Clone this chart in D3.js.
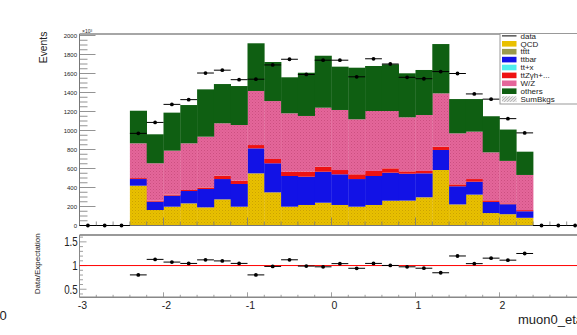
<!DOCTYPE html>
<html><head><meta charset="utf-8">
<script src="https://cdn.jsdelivr.net/npm/d3@7/dist/d3.min.js"></script>
<style>
body{margin:0;background:#fff}
svg{display:block}
text{font-family:"Liberation Sans",Arial,Helvetica,sans-serif;fill:#222}
</style>
</head><body>
<svg id="c" width="577" height="335"></svg>
<script>
// ---------------- data ----------------
const binCenters = [-2.9,-2.7,-2.5,-2.3,-2.1,-1.9,-1.7,-1.5,-1.3,-1.1,-0.9,-0.7,-0.5,-0.3,-0.1,0.1,0.3,0.5,0.7,0.9,1.1,1.3,1.5,1.7,1.9,2.1,2.3,2.5,2.7,2.9];
const binWidth = 0.2;
const qcd    = [0,0,0,419,163,198,233,191,275,198,549,349,198,216,240,216,198,216,261,262,297,584,222,325,131,119,81,0,0,0];
const tttt   = [0,0,0,0,0,0,0,0,0,0,0,0,0,0,0,0,0,0,0,0,0,0,0,0,0,0,0,0,0,0];
const ttbar  = [0,0,0,70,88,116,130,193,214,239,263,306,323,298,326,323,291,305,295,283,252,211,191,136,117,105,69,0,0,0];
const ttx    = [0,0,0,0,0,0,0,0,0,0,0,0,0,0,0,0,0,0,0,0,0,0,0,0,0,0,0,0,0,0];
const ttzgh  = [0,0,0,10,10,11,11,16,35,35,35,45,45,52,53,45,50,53,46,25,25,35,20,28,17,9,12,0,0,0];
const wz     = [0,0,0,366,394,463,491,535,552,586,569,610,615,587,621,632,579,631,603,569,589,561,537,499,505,447,370,0,0,0];
const others = [0,0,0,343,305,400,403,498,413,410,502,411,379,455,547,456,543,474,492,463,474,519,361,343,380,330,245,0,0,0];
const dataVals = [0,0,0,970,1085,1275,1325,1605,1635,1535,1540,1690,1750,1590,1740,1740,1565,1755,1700,1560,1545,1620,1600,1385,1330,1125,975,0,0,0];
const xTicks = [-3,-2,-1,0,1,2];
const yTicks = [0,200,400,600,800,1000,1200,1400,1600,1800,2000];
const rTicks = [0.5,1,1.5];
const legendLabels = ["data","QCD","tttt","ttbar","tt+x","ttZγh+...","W/Z","others","SumBkgs"];

// ---------------- layout ----------------
const svg = d3.select("#c");
const L = 79.5, R = 583.5;
const x = d3.scaleLinear().domain([-3,3]).range([L,R]);
const y = d3.scaleLinear().domain([0,2000]).range([225.5,35.5]);
const yr = d3.scaleLinear().domain([0.33,1.645]).range([297.3,235]);
const mainTop = 34, mainBot = y(0);
const rTop = 235, rBot = 297.3;

const defs = svg.append("defs");
function dotPattern(id, base, dot){
  const p = defs.append("pattern").attr("id",id).attr("width",3).attr("height",3).attr("patternUnits","userSpaceOnUse");
  p.append("rect").attr("width",3).attr("height",3).attr("fill",base);
  p.append("rect").attr("x",0).attr("y",0).attr("width",1).attr("height",1).attr("fill",dot);
  p.append("rect").attr("x",1.5).attr("y",1.5).attr("width",1).attr("height",1).attr("fill",dot).attr("opacity",0.6);
}
dotPattern("pinkP","#e4669a","#cb4f80");
dotPattern("yelP","#e9c000","#cba300");
const gp = defs.append("pattern").attr("id","grayP").attr("width",3).attr("height",3).attr("patternUnits","userSpaceOnUse");
gp.append("rect").attr("width",3).attr("height",3).attr("fill","#e4e4e4");
gp.append("path").attr("d","M0,3L3,0").attr("stroke","#999").attr("stroke-width",0.6);

const keys = ["qcd","tttt","ttbar","ttx","ttzgh","wz","others"];
const fills = {qcd:"url(#yelP)",tttt:"#9a9a4c",ttbar:"#1212e6",ttx:"#50eeee",ttzgh:"#ee1212",wz:"url(#pinkP)",others:"#0f5f12"};
const legendFills = ["none","#e9c000","#9a9a4c","#1212e6","#50eeee","#ee1212","#e4669a","#0f5f12","url(#grayP)"];
const rows = binCenters.map((c,i)=>({c, qcd:qcd[i], tttt:tttt[i], ttbar:ttbar[i], ttx:ttx[i], ttzgh:ttzgh[i], wz:wz[i], others:others[i], data:dataVals[i]}));
const stacked = d3.stack().keys(keys)(rows);

const plot = svg.append("g");
stacked.forEach(layer=>{
  plot.append("g").selectAll("rect").data(layer.filter(d=>d[1]>d[0])).join("rect")
    .attr("x",d=>x(d.data.c-binWidth/2))
    .attr("width",d=>x(d.data.c+binWidth/2)-x(d.data.c-binWidth/2)+0.3)
    .attr("y",d=>y(d[1]))
    .attr("height",d=>y(d[0])-y(d[1]))
    .attr("fill",fills[layer.key]);
});

// main frame
svg.append("line").attr("x1",L).attr("x2",577).attr("y1",mainTop).attr("y2",mainTop).attr("stroke","#888").attr("stroke-width",1.5);
svg.append("line").attr("x1",L).attr("x2",L).attr("y1",mainTop).attr("y2",mainBot).attr("stroke","#777").attr("stroke-width",1);
svg.append("line").attr("x1",L).attr("x2",577).attr("y1",mainBot).attr("y2",mainBot).attr("stroke","#777").attr("stroke-width",1);

// main y ticks
const yMinor = d3.range(0,2001,50);
svg.append("g").selectAll("line").data(yMinor).join("line")
  .attr("x1",L).attr("x2",d=>L+(d%200===0?16:8)).attr("y1",d=>y(d)).attr("y2",d=>y(d))
  .attr("stroke","#777").attr("stroke-width",0.8);
svg.append("g").selectAll("text").data(yTicks).join("text")
  .attr("x",77).attr("y",d=>y(d)+2).attr("text-anchor","end").attr("font-size",6).attr("fill","#444").text(d=>d);
svg.append("text").attr("x",82).attr("y",33).attr("font-size",5).text("×10³");
svg.append("text").attr("transform","translate(46.5,31.7) rotate(-90)").attr("text-anchor","end").attr("font-size",10.3).text("Events");

// main x ticks
const xMinor = d3.range(-3,3.001,0.2).map(v=>Math.round(v*10)/10);
svg.append("g").selectAll("line").data(xMinor).join("line")
  .attr("x1",d=>x(d)).attr("x2",d=>x(d)).attr("y1",mainBot).attr("y2",d=>mainBot-(Math.abs(d-Math.round(d))<1e-6?8:4))
  .attr("stroke","#777").attr("stroke-width",0.8);

// data points (main)
const dg = svg.append("g");
rows.forEach(r=>{
  dg.append("line").attr("x1",x(r.c-binWidth/2)).attr("x2",x(r.c+binWidth/2)).attr("y1",y(r.data)).attr("y2",y(r.data)).attr("stroke","#000").attr("stroke-width",1);
  dg.append("circle").attr("cx",x(r.c)).attr("cy",y(r.data)).attr("r",1.9).attr("fill","#000");
});

// legend
const lg = svg.append("g");
lg.append("rect").attr("x",500).attr("y",33.5).attr("width",90).attr("height",70.5).attr("fill","#fff").attr("stroke","#999").attr("stroke-width",1);
legendLabels.forEach((t,i)=>{
  const cy = 35.9 + 7.9*i;
  if(i===0){
    lg.append("line").attr("x1",502).attr("x2",516.5).attr("y1",cy).attr("y2",cy).attr("stroke","#000").attr("stroke-width",1);
  } else {
    lg.append("rect").attr("x",502).attr("y",cy-2.8).attr("width",14.5).attr("height",5.6).attr("fill",legendFills[i]);
  }
  lg.append("text").attr("x",520.5).attr("y",cy+2.7).attr("font-size",8).text(t);
});

// ratio frame
svg.append("line").attr("x1",L).attr("x2",577).attr("y1",rTop).attr("y2",rTop).attr("stroke","#777").attr("stroke-width",1.5);
svg.append("line").attr("x1",L).attr("x2",577).attr("y1",rBot).attr("y2",rBot).attr("stroke","#888").attr("stroke-width",1.5);
svg.append("line").attr("x1",L).attr("x2",L).attr("y1",rTop).attr("y2",rBot).attr("stroke","#888").attr("stroke-width",1);
const rMinor = d3.range(4,17,1).map(v=>v/10);
svg.append("g").selectAll("line").data(rMinor).join("line")
  .attr("x1",L).attr("x2",d=>L+((Math.round(d*10))%5===0?7:3.5)).attr("y1",d=>yr(d)).attr("y2",d=>yr(d))
  .attr("stroke","#888").attr("stroke-width",0.8);
svg.append("g").selectAll("line").data(xMinor).join("line")
  .attr("x1",d=>x(d)).attr("x2",d=>x(d)).attr("y1",rBot).attr("y2",d=>rBot-(Math.abs(d-Math.round(d))<1e-6?5:2.5))
  .attr("stroke","#888").attr("stroke-width",0.8);
svg.append("g").selectAll("g").data(rTicks).join("g")
  .attr("transform",d=>`translate(77.7,${yr(d)+4.6}) scale(0.78,1)`)
  .append("text").attr("text-anchor","end").attr("font-size",12.5).text(d=>d);
svg.append("text").attr("transform","translate(39.5,263.7) rotate(-90)").attr("text-anchor","middle").attr("font-size",8).text("Data/Expectation");
svg.append("line").attr("x1",L).attr("x2",577).attr("y1",yr(1)).attr("y2",yr(1)).attr("stroke","#f00").attr("stroke-width",1);
const rg = svg.append("g");
rows.forEach(r=>{
  const tot = r.qcd+r.tttt+r.ttbar+r.ttx+r.ttzgh+r.wz+r.others;
  if(tot<=0) return;
  const v = r.data/tot;
  rg.append("line").attr("x1",x(r.c-binWidth/2)).attr("x2",x(r.c+binWidth/2)).attr("y1",yr(v)).attr("y2",yr(v)).attr("stroke","#000").attr("stroke-width",1);
  rg.append("circle").attr("cx",x(r.c)).attr("cy",yr(v)).attr("r",1.9).attr("fill","#000");
});
svg.append("g").selectAll("text").data(xTicks).join("text")
  .attr("x",d=>x(d)+3).attr("y",309).attr("text-anchor","middle").attr("font-size",10.5).text(d=>d);
svg.append("text").attr("x",518).attr("y",323.5).attr("font-size",13).text("muon0_eta");
svg.append("text").attr("x",-0.5).attr("y",320).attr("font-size",13).text("0");
</script>
</body></html>
